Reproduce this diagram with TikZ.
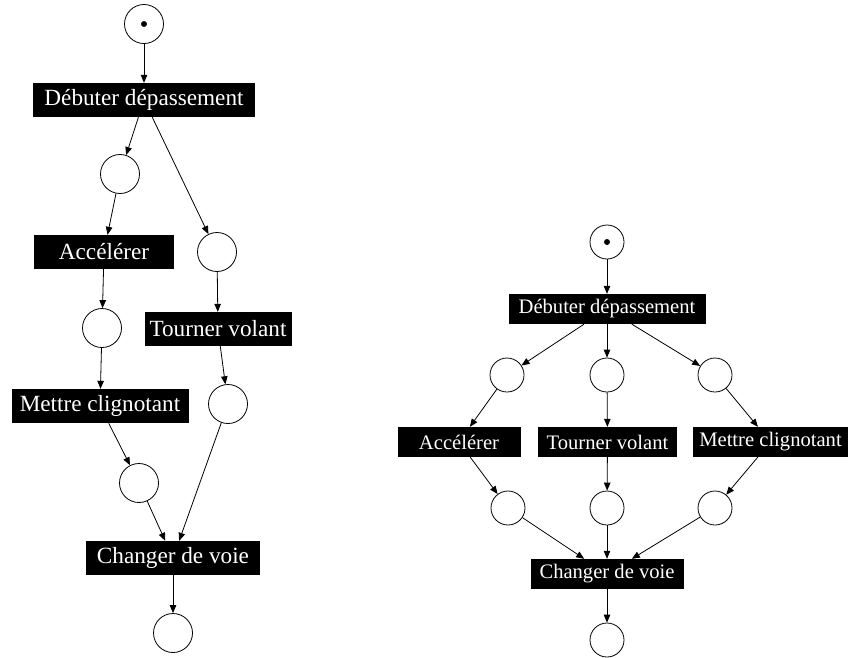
\documentclass[tikz,border=0pt]{standalone}
\usepackage{fontspec}
\setmainfont{Liberation Serif}
\usetikzlibrary{arrows.meta}
\begin{document}
\begin{tikzpicture}[x=1pt,y=-1pt,
  trL/.style={fill=black,text=white,inner sep=0pt,minimum height=34pt,font=\fontsize{23.2}{26}\selectfont},
  trR/.style={fill=black,text=white,inner sep=0pt,minimum height=30pt,font=\fontsize{20.6}{23}\selectfont},
  plL/.style={circle,draw,line width=0.8pt,minimum size=39pt,inner sep=0pt},
  plR/.style={circle,draw,line width=0.8pt,minimum size=34pt,inner sep=0pt},
  arc/.style={line width=0.8pt,-{Triangle[length=8pt,width=6.5pt]}},
  tok/.style={circle,fill=black,inner sep=0pt,minimum size=6pt}]
\useasboundingbox (0,0) rectangle (848,657);
% Left net
\node[plL] (a0) at (144,24) {};
\node[tok] (ta) at (144,24) {};
\node[trL,minimum width=222pt] (adeb) at (144,100) {Débuter dépassement};
\node[plL] (a1) at (120,174) {};
\node[plL] (a2) at (217,252) {};
\node[trL,minimum width=140pt] (aacc) at (104,252) {Accélérer};
\node[plL] (a3) at (102,328) {};
\node[trL,minimum width=147pt] (atou) at (218,329) {Tourner volant};
\node[trL,minimum width=177pt] (amet) at (100,406) {Mettre clignotant};
\node[plL] (a4) at (228,404) {};
\node[plL] (a5) at (139,483) {};
\node[trL,minimum width=174pt] (acha) at (173,558) {Changer de voie};
\node[plL] (a6) at (173,633) {};
\draw[arc] (a0) -- (adeb);
\draw[arc] (adeb) -- (a1);
\draw[arc] (adeb) -- (a2);
\draw[arc] (a1) -- (aacc);
\draw[arc] (aacc) -- (a3);
\draw[arc] (a3) -- (amet);
\draw[arc] (amet) -- (a5);
\draw[arc] (a2) -- (atou);
\draw[arc] (atou) -- (a4);
\draw[arc] (a5) -- (acha);
\draw[arc] (a4) -- (acha);
\draw[arc] (acha) -- (a6);
% Right net
\node[plR] (b0) at (607,242) {};
\node[tok] (tb) at (607,242) {};
\node[trR,minimum width=197pt] (bdeb) at (607,309) {Débuter dépassement};
\node[plR] (b1) at (507,375) {};
\node[plR] (b2) at (607,375) {};
\node[plR] (b3) at (715,375) {};
\node[trR,minimum width=123pt] (bacc) at (459,442) {Accélérer};
\node[trR,minimum width=139pt] (btou) at (607.5,442) {Tourner volant};
\node[trR,minimum width=155pt] (bmet) at (770.5,442) {Mettre clignotant};
\node[plR] (b4) at (508,508) {};
\node[plR] (b5) at (607,508) {};
\node[plR] (b6) at (715,508) {};
\node[trR,minimum width=153pt] (bcha) at (607,574) {Changer de voie};
\node[plR] (b7) at (607,640) {};
\draw[arc] (b0) -- (bdeb);
\draw[arc] (bdeb) -- (b1);
\draw[arc] (bdeb) -- (b2);
\draw[arc] (bdeb) -- (b3);
\draw[arc] (b1) -- (bacc);
\draw[arc] (b2) -- (btou);
\draw[arc] (b3) -- (bmet);
\draw[arc] (bacc) -- (b4);
\draw[arc] (btou) -- (b5);
\draw[arc] (bmet) -- (b6);
\draw[arc] (b4) -- (bcha);
\draw[arc] (b5) -- (bcha);
\draw[arc] (b6) -- (bcha);
\draw[arc] (bcha) -- (b7);
\end{tikzpicture}
\end{document}
